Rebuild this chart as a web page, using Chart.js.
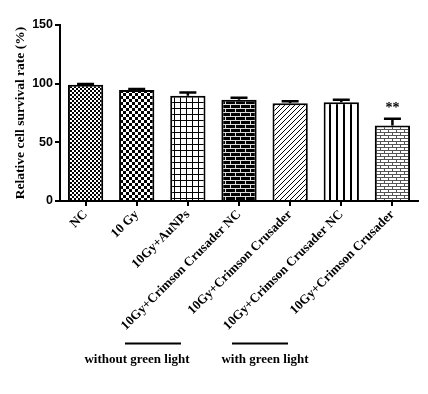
<!DOCTYPE html>
<html>
<head>
<meta charset="utf-8">
<script src="https://cdn.jsdelivr.net/npm/chart.js@4.4.0/dist/chart.umd.min.js"></script>
<style>
  html, body { margin: 0; padding: 0; background: #fff; }
  #wrap { width: 428px; height: 394px; }
</style>
</head>
<body>
<div id="wrap"><canvas id="SurvivalChart" width="428" height="394"></canvas></div>
<script>
const groups = ['NC', '10 Gy', '10Gy+AuNPs', '10Gy+Crimson Crusader NC', '10Gy+Crimson Crusader', '10Gy+Crimson Crusader NC', '10Gy+Crimson Crusader'];
const survival = [99, 94.6, 89.6, 86.2, 83.3, 84.2, 64.4];
const errors = [0.8, 0.9, 2.8, 1.7, 1.7, 2.0, 5.6];
const marks = ['', '', '', '', '', '', '**'];
const yTicks = [0, 50, 100, 150];
const groupNotes = ['without green light', 'with green light'];

// little helper to build a fill pattern
function makePattern(w, h, draw) {
  const c = document.createElement('canvas');
  c.width = w;
  c.height = h;
  const g = c.getContext('2d');
  g.fillStyle = '#fff';
  g.fillRect(0, 0, w, h);
  draw(g);
  return g.createPattern(c, 'repeat');
}

const ctx = document.getElementById('SurvivalChart').getContext('2d');

const patterns = [
  // fine checker
  makePattern(4, 4, (g) => {
    g.fillStyle = '#000';
    g.fillRect(0, 0, 2, 2);
    g.fillRect(2, 2, 2, 2);
  }),
  // coarse checker
  makePattern(6, 6, (g) => {
    g.fillStyle = '#000';
    g.fillRect(0, 0, 3, 3);
    g.fillRect(3, 3, 3, 3);
  }),
  // grid
  makePattern(6, 6, (g) => {
    g.fillStyle = '#000';
    g.fillRect(0, 0, 6, 1);
    g.fillRect(0, 0, 1, 6);
  }),
  // dark brick
  makePattern(10, 8, (g) => {
    g.fillStyle = '#000';
    g.fillRect(0, 0, 10, 8);
    g.fillStyle = '#ddd';
    g.fillRect(0, 0, 10, 1);
    g.fillRect(0, 4, 10, 1);
    g.fillRect(0, 0, 1, 4);
    g.fillRect(5, 4, 1, 4);
  }),
  // diagonal hatch
  makePattern(5, 5, (g) => {
    g.strokeStyle = '#000';
    g.lineWidth = 1;
    g.beginPath();
    g.moveTo(-1, 6);
    g.lineTo(6, -1);
    g.stroke();
  }),
  // vertical stripes
  makePattern(7, 2, (g) => {
    g.fillStyle = '#000';
    g.fillRect(0, 0, 2, 2);
  }),
  // light brick
  makePattern(8, 6, (g) => {
    g.fillStyle = '#555';
    g.fillRect(0, 0, 8, 1);
    g.fillRect(0, 3, 8, 1);
    g.fillRect(0, 0, 1, 3);
    g.fillRect(4, 3, 1, 3);
  }),
];

const errorBars = {
  id: 'errorBars',
  afterDatasetsDraw(chart) {
    const c = chart.ctx;
    const y = chart.scales.y;
    const meta = chart.getDatasetMeta(0);
    c.save();
    c.strokeStyle = '#000';
    c.lineWidth = 2.5;
    meta.data.forEach((bar, i) => {
      const top = y.getPixelForValue(survival[i] + errors[i]);
      c.beginPath();
      c.moveTo(bar.x, bar.y);
      c.lineTo(bar.x, top);
      c.moveTo(bar.x - 8.5, top);
      c.lineTo(bar.x + 8.5, top);
      c.stroke();
      if (marks[i]) {
        c.fillStyle = '#000';
        c.font = 'bold 14px "Liberation Serif"';
        c.textAlign = 'center';
        c.textBaseline = 'bottom';
        c.fillText(marks[i], bar.x, top - 3);
      }
    });
    c.restore();
  },
};

const groupLabels = {
  id: 'groupLabels',
  afterDraw(chart) {
    const c = chart.ctx;
    c.save();
    c.strokeStyle = '#000';
    c.lineWidth = 2;
    c.beginPath();
    c.moveTo(125, 343.5);
    c.lineTo(181, 343.5);
    c.moveTo(232, 343.5);
    c.lineTo(288, 343.5);
    c.stroke();
    c.fillStyle = '#000';
    c.font = 'bold 13px "Liberation Serif"';
    c.textAlign = 'center';
    c.textBaseline = 'middle';
    c.fillText(groupNotes[0], 137, 360);
    c.fillText(groupNotes[1], 265, 360);
    c.restore();
  },
};

new Chart(ctx, {
  type: 'bar',
  data: {
    labels: groups,
    datasets: [
      {
        data: survival,
        backgroundColor: patterns,
        borderColor: '#000',
        borderWidth: 2,
        borderSkipped: 'bottom',
        categoryPercentage: 1,
        barPercentage: 0.69,
      },
    ],
  },
  options: {
    responsive: false,
    animation: false,
    events: [],
    layout: {
      padding: { top: 25, right: 10, left: 0, bottom: 0 },
    },
    plugins: {
      legend: { display: false },
      tooltip: { enabled: false },
    },
    scales: {
      x: {
        grid: {
          display: true,
          drawOnChartArea: false,
          offset: false,
          color: '#000',
          lineWidth: 2,
          tickLength: 5,
        },
        border: { display: true, color: '#000', width: 2 },
        ticks: {
          autoSkip: false,
          minRotation: 45,
          maxRotation: 45,
          color: '#000',
          padding: 1,
          font: { family: '"Liberation Serif"', size: 13, weight: 'bold' },
        },
        afterFit: (scale) => {
          scale.height = 193;
        },
      },
      y: {
        min: 0,
        max: 150,
        afterBuildTicks: (scale) => {
          scale.ticks = yTicks.map((v) => ({ value: v }));
        },
        grid: {
          display: true,
          drawOnChartArea: false,
          color: '#000',
          lineWidth: 2,
          tickLength: 5,
        },
        border: { display: true, color: '#000', width: 2 },
        ticks: {
          color: '#000',
          padding: 2,
          font: { family: '"Liberation Sans"', size: 12.5, weight: 'bold' },
        },
        title: {
          display: true,
          text: 'Relative cell survival rate (%)',
          color: '#000',
          padding: { top: 12 },
          font: { family: '"Liberation Serif"', size: 13.5, weight: 'bold' },
        },
        afterFit: (scale) => {
          scale.width = 60;
        },
      },
    },
  },
  plugins: [errorBars, groupLabels],
});
</script>
</body>
</html>
